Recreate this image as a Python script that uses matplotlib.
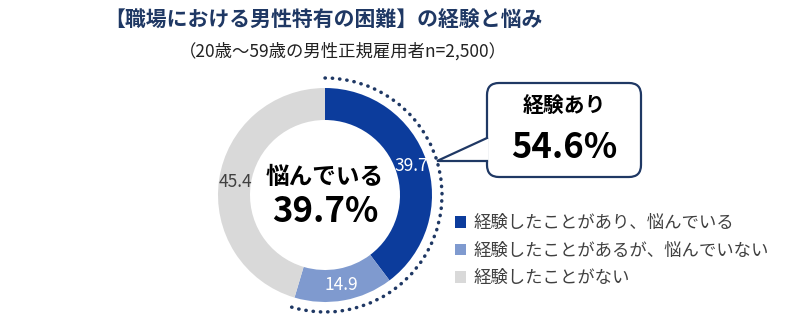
import numpy as np
import matplotlib
matplotlib.use("Agg")
from matplotlib import pyplot as plt
from matplotlib.patches import Arc, FancyBboxPatch, Polygon

plt.rcParams["font.family"] = ["Noto Sans CJK JP", "DejaVu Sans"]

categories = ["経験したことがあり、悩んでいる", "経験したことがあるが、悩んでいない", "経験したことがない"]
shares = [39.7, 14.9, 45.4]
colors = ["#0C3C9C", "#7F9ACF", "#D9D9D9"]
label_colors = ["white", "white", "#404040"]
experienced = shares[0] + shares[1]

NAVY = "#1F3864"
H = 328

fig = plt.figure(figsize=(8, 3.28), dpi=100)
ax = fig.add_axes([0, 0, 1, 1])

# donut, in pixel coordinates
cx, cy = 325, H - 195
r_out, ring = 107, 32
wedges, _ = ax.pie(shares, colors=colors, startangle=90, counterclock=False,
                   center=(cx, cy), radius=r_out,
                   wedgeprops=dict(width=ring, edgecolor="none"))
for w, v, c in zip(wedges, shares, label_colors):
    mid = np.deg2rad((w.theta1 + w.theta2) / 2)
    r = r_out - ring * 0.5
    ax.text(cx + r * np.cos(mid), cy + r * np.sin(mid), f"{v:.1f}",
            ha="center", va="center", fontsize=12.5, color=c)

# dotted arc over the "experienced" part
end = 90 - experienced * 3.6
ax.add_patch(Arc((cx, cy), 234, 234, theta1=end, theta2=90, color=NAVY,
                 lw=2.5, linestyle=(0, (0.1, 2.0)), capstyle="round"))

ax.text(cx, H - 177, "悩んでいる", ha="center", va="center",
        fontsize=17, fontweight="bold", color="black")
ax.text(cx, H - 212, f"{shares[0]:.1f}%", ha="center", va="center",
        fontsize=25, fontweight="bold", color="black")

# callout box
bx0, bx1, by0, by1 = 487, 641, H - 177, H - 83
ax.add_patch(FancyBboxPatch((bx0, by0), bx1 - bx0, by1 - by0,
                            boxstyle="round,pad=0,rounding_size=12",
                            fc="white", ec=NAVY, lw=1.6, zorder=3))
tip = (437, H - 161)
t_top, t_bot = H - 138, H - 161
ax.add_patch(Polygon([(bx0 + 1.5, t_top), tip, (bx0 + 1.5, t_bot)],
                     closed=True, fc="white", ec="none", zorder=4))
ax.plot([bx0, tip[0], bx0], [t_top, tip[1], t_bot], color=NAVY, lw=1.6,
        zorder=5, solid_joinstyle="miter")
ax.text((bx0 + bx1) / 2, H - 106, "経験あり", ha="center", va="center",
        fontsize=15, fontweight="bold", color="black", zorder=6)
ax.text((bx0 + bx1) / 2, H - 147, f"{experienced:.1f}%", ha="center",
        va="center", fontsize=25, fontweight="bold", color="black", zorder=6)

# titles
ax.text(323, H - 20, "【職場における男性特有の困難】の経験と悩み", ha="center",
        va="center", fontsize=15, fontweight="bold", color=NAVY)
ax.text(343, H - 51, "（20歳～59歳の男性正規雇用者n=2,500）", ha="center",
        va="center", fontsize=12.5, color="#222222")

leg = ax.legend(wedges, categories, loc="upper left",
                bbox_to_anchor=(448 / 800, 1 - 207 / H), frameon=False,
                fontsize=12.5, handlelength=0.65, handleheight=0.65,
                handletextpad=0.4, labelspacing=0.55, borderaxespad=0)
for t in leg.get_texts():
    t.set_color("#404040")

ax.set_xlim(0, 800)
ax.set_ylim(0, H)
ax.set_aspect("equal")
ax.axis("off")

fig.savefig("out.png", dpi=100, facecolor="white")
